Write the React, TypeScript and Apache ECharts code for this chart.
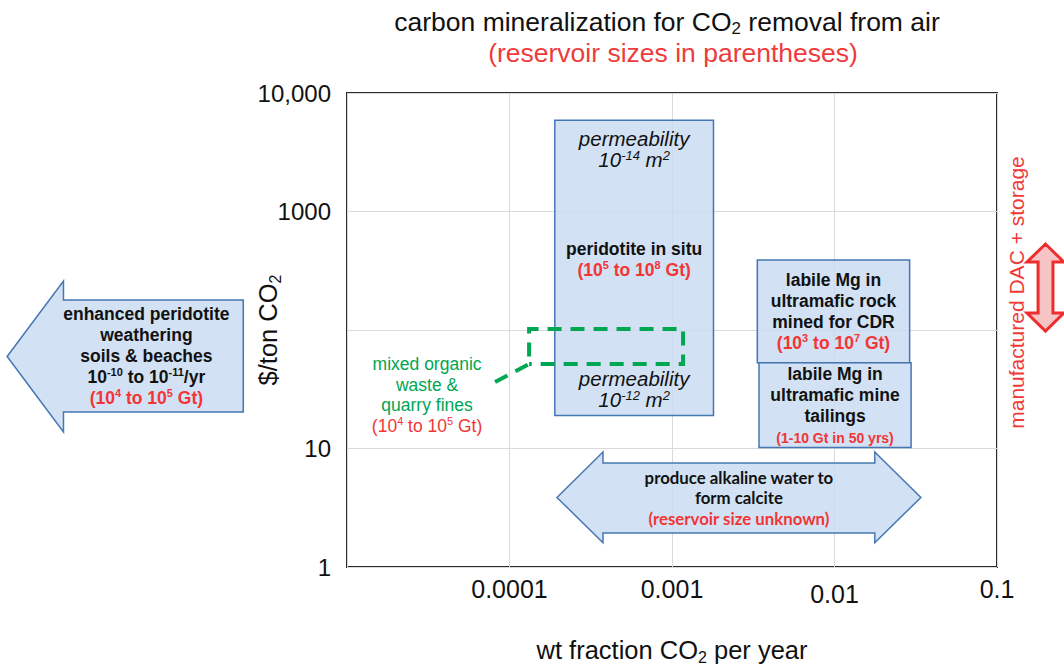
import { useEffect, useRef } from 'react';
import * as echarts from 'echarts';

// Axis ranges and tick labels
const xRange = [1e-5, 0.1];
const yRange = [1, 10000];
const xTickValues = [1e-5, 1e-4, 1e-3, 1e-2, 1e-1];
const xTickLabels = ['', '0.0001', '0.001', '0.01', '0.1'];
const yTickValues = [1, 10, 100, 1000, 10000];
const yTickLabels = ['1', '10', '', '1000', '10,000'];

// Boxes: [wt fraction low, wt fraction high, $/t low, $/t high]
const peridotiteInSitu = [1.9e-4, 1.8e-3, 19, 5900];
const minedForCDR = [3.35e-3, 2.9e-2, 53, 390];
const mineTailings = [3.43e-3, 2.96e-2, 10.2, 53];

// Mixed organic waste & quarry fines: dashed outline, [wt fraction, $/t]
const organicWasteOutline = [
  [8.15e-5, 36.4],
  [1.32e-4, 51.6],
  [1.32e-4, 102],
  [1.17e-3, 102],
  [1.17e-3, 51.6],
  [1.32e-4, 51.6],
];

// Enhanced weathering arrow: x [tip, head base, tail]; $/t [low, high]
const weatheringArrowX = [8.1e-8, 1.8e-7, 2.3e-6];
const weatheringArrowBody = [20.3, 179];
const weatheringArrowHead = [13.8, 259];

// Alkaline water double arrow: x [left tip, left head base, right head base, right tip]
const alkalineArrowX = [1.96e-4, 3.76e-4, 0.0177, 0.034];
const alkalineArrowBody = [1.94, 7.55];
const alkalineArrowHead = [1.6, 9.34];

// Manufactured DAC cost range: x [head left, shaft left, shaft right, head right]
// $/t [low tip, low head base, high head base, high tip]
const dacArrowX = [0.153, 0.179, 0.221, 0.258];
const dacArrowY = [98, 139, 375, 532];

const FONT = 'Arial, "Liberation Sans", Helvetica, sans-serif';
const RED = '#f23535';
const GREEN = '#00a651';
const BLACK = '#111111';
const BOX_STYLE = { fill: 'rgba(200,219,240,0.82)', stroke: '#4677b3', lineWidth: 1.5 };

function richSet(size: number, lh: number, weight = 'normal', style = 'normal', family = FONT) {
  const base = { fontSize: size, fontWeight: weight, fontStyle: style, fontFamily: family, lineHeight: lh };
  const supSize = Math.round(size * 0.62);
  const sup = { ...base, fontSize: supSize, lineHeight: supSize + 2, verticalAlign: 'top' };
  return {
    k: { ...base, fill: BLACK },
    ks: { ...sup, fill: BLACK },
    r: { ...base, fill: RED },
    rs: { ...sup, fill: RED },
    g: { ...base, fill: GREEN },
  };
}

function textEl(x: number, y: number, text: string, rich: any, rotation = 0) {
  return {
    type: 'text',
    x,
    y,
    rotation,
    style: {
      text,
      rich,
      align: 'center',
      verticalAlign: 'middle',
      textAlign: 'center',
      textVerticalAlign: 'middle',
    },
  };
}

const italicRich = richSet(20.5, 21, 'normal', 'italic');
const boldRich = richSet(17.5, 21, 'bold');
const smallRedBold = { r2: { fontSize: 14, fontWeight: 'bold', fontFamily: FONT, fill: RED, lineHeight: 23 } };
const axisNameRich = {
  a: { fontSize: 25.5, fontFamily: FONT, color: BLACK, lineHeight: 30 },
  s: { fontSize: 16, fontFamily: FONT, color: BLACK, lineHeight: 15, verticalAlign: 'bottom' },
};

function boxSeries(name: string, box: number[], texts: (r: any) => any[]) {
  return {
    type: 'custom',
    name,
    coordinateSystem: 'cartesian2d',
    clip: false,
    z: 3,
    data: [box],
    encode: { x: [0, 1], y: [2, 3] },
    renderItem: (params: any, api: any) => {
      const [x0, y0] = api.coord([api.value(0), api.value(3)]);
      const [x1, y1] = api.coord([api.value(1), api.value(2)]);
      const r = { x: x0, y: y0, width: x1 - x0, height: y1 - y0 };
      return {
        type: 'group',
        children: [{ type: 'rect', shape: r, style: BOX_STYLE }, ...texts(r)],
      };
    },
  };
}

const option: any = {
  animation: false,
  backgroundColor: '#ffffff',
  grid: {
    left: 347,
    top: 93,
    right: 67,
    bottom: 99,
    show: true,
    borderColor: '#2b2b2b',
    borderWidth: 2,
    containLabel: false,
    outerBoundsMode: 'none',
  },
  graphic: [
    {
      type: 'text',
      x: 667,
      y: 22,
      style: {
        text: '{a|carbon mineralization for CO}{s|2}{a| removal from air}',
        rich: {
          a: { fontSize: 26.5, fontFamily: FONT, fill: BLACK, lineHeight: 30 },
          s: { fontSize: 17, fontFamily: FONT, fill: BLACK, lineHeight: 15, verticalAlign: 'bottom' },
        },
        align: 'center',
        verticalAlign: 'middle',
      },
    },
    {
      type: 'text',
      x: 673,
      y: 53,
      style: {
        text: '(reservoir sizes in parentheses)',
        fontSize: 26.5,
        fontFamily: FONT,
        fill: '#ee3b3b',
        align: 'center',
        verticalAlign: 'middle',
      },
    },
  ],
  xAxis: {
    type: 'log',
    logBase: 10,
    min: xRange[0],
    max: xRange[1],
    name: '{a|wt fraction CO}{s|2}{a| per year}',
    nameLocation: 'middle',
    nameGap: 68,
    nameMoveOverlap: false,
    nameTextStyle: { rich: axisNameRich },
    axisLine: { show: false },
    axisTick: { show: false },
    splitLine: { show: true, lineStyle: { color: '#dadada', width: 1 } },
    axisLabel: {
      fontSize: 25,
      fontFamily: FONT,
      color: BLACK,
      margin: 9,
      hideOverlap: false,
      showMinLabel: true,
      showMaxLabel: true,
      rich: {
        lo: { fontSize: 25, fontFamily: FONT, color: BLACK, padding: [5, 0, 0, 0] },
      },
      formatter: (v: number) => {
        const e = Math.round(Math.log10(v));
        const i = xTickValues.findIndex((t) => Math.round(Math.log10(t)) === e);
        if (i < 0) return '';
        return e === -2 ? `{lo|${xTickLabels[i]}}` : xTickLabels[i];
      },
    },
  },
  yAxis: {
    type: 'log',
    logBase: 10,
    min: yRange[0],
    max: yRange[1],
    name: '{a|$/ton CO}{s|2}',
    nameLocation: 'middle',
    nameGap: 64,
    nameRotate: 90,
    nameMoveOverlap: false,
    nameTextStyle: { rich: axisNameRich },
    axisLine: { show: false },
    axisTick: { show: false },
    splitLine: { show: true, lineStyle: { color: '#dadada', width: 1 } },
    axisLabel: {
      fontSize: 24,
      fontFamily: FONT,
      color: BLACK,
      margin: 16,
      hideOverlap: false,
      showMinLabel: true,
      showMaxLabel: true,
      formatter: (v: number) => {
        const e = Math.round(Math.log10(v));
        const i = yTickValues.findIndex((t) => Math.round(Math.log10(t)) === e);
        return i >= 0 ? yTickLabels[i] : '';
      },
    },
  },
  series: [
    // enhanced peridotite weathering arrow (off the left of the axis)
    {
      type: 'custom',
      name: 'enhanced weathering',
      coordinateSystem: 'cartesian2d',
      clip: false,
      z: 3,
      data: [[weatheringArrowX[2], weatheringArrowBody[1]]],
      renderItem: (params: any, api: any) => {
        const [tipX, headX, tailX] = weatheringArrowX.map((x) => api.coord([x, 10])[0]);
        const bodyLo = api.coord([1e-5, weatheringArrowBody[0]])[1];
        const bodyHi = api.coord([1e-5, weatheringArrowBody[1]])[1];
        const headLo = api.coord([1e-5, weatheringArrowHead[0]])[1];
        const headHi = api.coord([1e-5, weatheringArrowHead[1]])[1];
        const mid = (headLo + headHi) / 2;
        const points = [
          [tipX, mid],
          [headX, headHi],
          [headX, bodyHi],
          [tailX, bodyHi],
          [tailX, bodyLo],
          [headX, bodyLo],
          [headX, headLo],
        ];
        return {
          type: 'group',
          children: [
            { type: 'polygon', shape: { points }, style: BOX_STYLE },
            textEl(
              (headX + tailX) / 2 - 7,
              (bodyLo + bodyHi) / 2,
              '{k|enhanced peridotite}\n{k|weathering}\n{k|soils & beaches}\n{k|10}{ks|-10}{k| to 10}{ks|-11}{k|/yr}\n{r|(10}{rs|4}{r| to 10}{rs|5}{r| Gt)}',
              boldRich
            ),
          ],
        };
      },
    },
    // produce alkaline water to form calcite
    {
      type: 'custom',
      name: 'alkaline water',
      coordinateSystem: 'cartesian2d',
      clip: false,
      z: 3,
      data: [[alkalineArrowX[0], alkalineArrowBody[0]]],
      renderItem: (params: any, api: any) => {
        const [lt, lh, rh, rt] = alkalineArrowX.map((x) => api.coord([x, 10])[0]);
        const bodyLo = api.coord([1e-3, alkalineArrowBody[0]])[1];
        const bodyHi = api.coord([1e-3, alkalineArrowBody[1]])[1];
        const headLo = api.coord([1e-3, alkalineArrowHead[0]])[1];
        const headHi = api.coord([1e-3, alkalineArrowHead[1]])[1];
        const mid = (headLo + headHi) / 2;
        const points = [
          [lt, mid],
          [lh, headHi],
          [lh, bodyHi],
          [rh, bodyHi],
          [rh, headHi],
          [rt, mid],
          [rh, headLo],
          [rh, bodyLo],
          [lh, bodyLo],
          [lh, headLo],
        ];
        return {
          type: 'group',
          children: [
            { type: 'polygon', shape: { points }, style: BOX_STYLE },
            textEl(
              (lt + rt) / 2,
              (bodyLo + bodyHi) / 2,
              '{k|produce alkaline water to}\n{k|form calcite}\n{r|(reservoir size unknown)}',
              richSet(16.8, 20.5, 'bold', 'normal', 'Lato, ' + FONT)
            ),
          ],
        };
      },
    },
    boxSeries('peridotite in situ', peridotiteInSitu, (r) => [
      textEl(r.x + r.width / 2, r.y + 28.5, '{k|permeability}\n{k|10}{ks|-14}{k| m}{ks|2}', italicRich),
      textEl(
        r.x + r.width / 2,
        r.y + r.height / 2 - 8.5,
        '{k|peridotite in situ}\n{r|(10}{rs|5}{r| to 10}{rs|8}{r| Gt)}',
        { ...boldRich, k: { ...boldRich.k, lineHeight: 22 } }
      ),
      textEl(r.x + r.width / 2, r.y + r.height - 26, '{k|permeability}\n{k|10}{ks|-12}{k| m}{ks|2}', italicRich),
    ]),
    boxSeries('mined for CDR', minedForCDR, (r) => [
      textEl(
        r.x + r.width / 2,
        r.y + r.height / 2,
        '{k|labile Mg in}\n{k|ultramafic rock}\n{k|mined for CDR}\n{r|(10}{rs|3}{r| to 10}{rs|7}{r| Gt)}',
        boldRich
      ),
    ]),
    boxSeries('mine tailings', mineTailings, (r) => [
      textEl(
        r.x + r.width / 2,
        r.y + r.height / 2 + 1,
        '{k|labile Mg in}\n{k|ultramafic mine}\n{k|tailings}\n{r2|(1-10 Gt in 50 yrs)}',
        { ...boldRich, ...smallRedBold }
      ),
    ]),
    // mixed organic waste & quarry fines (dashed outline with leader)
    {
      type: 'custom',
      name: 'mixed organic waste',
      coordinateSystem: 'cartesian2d',
      clip: false,
      z: 4,
      data: organicWasteOutline,
      renderItem: (params: any, api: any) => {
        if (params.dataIndex !== 0) return null;
        const points = organicWasteOutline.map((p) => api.coord(p));
        const [sx, sy] = points[0];
        return {
          type: 'group',
          children: [
            {
              type: 'polyline',
              shape: { points },
              style: { stroke: GREEN, lineWidth: 4, lineDash: [14, 9], fill: null },
            },
            textEl(
              sx - 68,
              sy + 13,
              '{g|mixed organic}\n{g|waste &}\n{g|quarry fines}\n{r|(10}{rs|4}{r| to 10}{rs|5}{r| Gt)}',
              richSet(17.5, 20.5)
            ),
          ],
        };
      },
    },
    // manufactured DAC + storage cost range
    {
      type: 'custom',
      name: 'manufactured DAC + storage',
      coordinateSystem: 'cartesian2d',
      clip: false,
      z: 3,
      data: [[dacArrowX[1], dacArrowY[0]]],
      renderItem: (params: any, api: any) => {
        const [hl, sl, sr, hr] = dacArrowX.map((x) => api.coord([x, 10])[0]);
        const [lowTip, lowBase, highBase, highTip] = dacArrowY.map((y) => api.coord([0.2, y])[1]);
        const cx = (hl + hr) / 2;
        const points = [
          [cx, highTip],
          [hr, highBase],
          [sr, highBase],
          [sr, lowBase],
          [hr, lowBase],
          [cx, lowTip],
          [hl, lowBase],
          [sl, lowBase],
          [sl, highBase],
          [hl, highBase],
        ];
        return {
          type: 'group',
          children: [
            {
              type: 'polygon',
              shape: { points },
              style: { fill: '#f7c4c6', stroke: '#ee2e2e', lineWidth: 3, lineJoin: 'miter' },
            },
            textEl(
              cx - 29,
              (lowTip + highTip) / 2 + 5,
              '{r|manufactured DAC + storage}',
              { r: { fontSize: 21, fontFamily: FONT, fill: '#f03a3a', lineHeight: 24 } },
              Math.PI / 2
            ),
          ],
        };
      },
    },
  ],
};

export default function App() {
  const ref = useRef<HTMLDivElement>(null);
  useEffect(() => {
    const chart = echarts.init(ref.current!, undefined, { renderer: 'svg' });
    chart.setOption(option);
    return () => chart.dispose();
  }, []);
  return (
    <div
      ref={ref}
      style={{ position: 'absolute', left: 0, top: 0, width: 1064, height: 666, background: '#ffffff' }}
    />
  );
}
